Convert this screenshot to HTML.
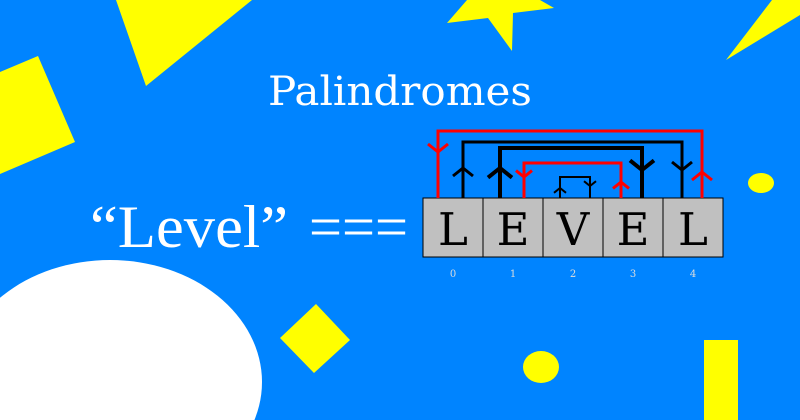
<!DOCTYPE html>
<html><head><meta charset="utf-8"><style>
html,body{margin:0;padding:0;width:800px;height:420px;overflow:hidden;background:#0084ff}
svg{display:block}
</style></head><body>
<svg width="800" height="420" viewBox="0 0 800 420">
<rect x="0" y="0" width="800" height="420" fill="#0084ff"/>
<polygon points="116,0 252,0 146,86" fill="#ffff00"/>
<polygon points="0,72 38,56 75,142 0,174" fill="#ffff00"/>
<polygon points="467,0 540,0 554,8 513,13 512,51 488,18 447,23" fill="#ffff00"/>
<polygon points="726,60 772,0 800,0 800,15" fill="#ffff00"/>
<ellipse cx="761" cy="183" rx="13" ry="10" fill="#ffff00"/>
<polygon points="280,338 316,304 350,340 314,373" fill="#ffff00"/>
<ellipse cx="541" cy="367" rx="18" ry="16" fill="#ffff00"/>
<rect x="704" y="340" width="34" height="80" fill="#ffff00"/>
<ellipse cx="110" cy="382" rx="152" ry="122" fill="#ffffff"/>

<text x="400" y="105" text-anchor="middle" font-family="'DejaVu Serif','Liberation Serif',serif" font-size="40" fill="#fff" textLength="264" lengthAdjust="spacingAndGlyphs">Palindromes</text>
<text x="90" y="247" font-family="'Liberation Serif',serif" font-size="60" fill="#fff" textLength="198" lengthAdjust="spacingAndGlyphs">“Level”</text>
<text x="309" y="247" font-family="'Liberation Serif',serif" font-size="60" fill="#fff" textLength="99" lengthAdjust="spacingAndGlyphs">===</text>

<g id="boxes"></g>
<g id="arcs"></g>
</svg>
<script>
const letters = ["L","E","V","E","L"];
const indices = ["0","1","2","3","4"];
const NS = "http://www.w3.org/2000/svg";
const bx = document.getElementById("boxes");
letters.forEach((ch,i)=>{
  const x = 423 + i*60;
  const r = document.createElementNS(NS,"rect");
  r.setAttribute("x",x);r.setAttribute("y",198);r.setAttribute("width",60);r.setAttribute("height",59);
  r.setAttribute("fill","#c0c0c0");r.setAttribute("stroke","#000");r.setAttribute("stroke-width","1");
  
  
  bx.appendChild(r);
  const t = document.createElementNS(NS,"text");
  t.setAttribute("x",x+30);t.setAttribute("y",245);t.setAttribute("text-anchor","middle");
  t.setAttribute("font-family","'DejaVu Serif','Liberation Serif',serif");t.setAttribute("font-size","45");
  t.textContent = ch;
  
  
  bx.appendChild(t);
  const n = document.createElementNS(NS,"text");
  n.setAttribute("x",x+30);n.setAttribute("y",277);n.setAttribute("text-anchor","middle");
  n.setAttribute("font-family","'DejaVu Serif','Liberation Serif',serif");n.setAttribute("font-size","10");n.setAttribute("fill","#ddd");
  n.textContent = indices[i];
  
  
  bx.appendChild(n);
});
const arcs = [
  [438,702,131,"#ff0000",3,"down",152,"up",172,10],
  [463,682,142,"#000",3,"up",168,"down",170,10],
  [500,642,148,"#000",4,"up",168,"down",170,12],
  [524,621,163,"#ff0000",3,"down",177,"up",182,8],
  [560,590,177,"#000",2,"up",188,"down",186,6]
];
const ag = document.getElementById("arcs");
function arrow(x,y,dir,s,col,w){
  const p = document.createElementNS(NS,"polyline");
  const dy = dir==="down" ? -s*0.8 : s*0.8;
  p.setAttribute("points",`${x-s},${y+dy} ${x},${y} ${x+s},${y+dy}`);
  p.setAttribute("fill","none");p.setAttribute("stroke",col);p.setAttribute("stroke-width",w);
  
  
  ag.appendChild(p);
}
arcs.forEach(a=>{
  const [l,r,top,col,w,ld,ly,rd,ry,s]=a;
  const p = document.createElementNS(NS,"polyline");
  p.setAttribute("points",`${l},198 ${l},${top} ${r},${top} ${r},198`);
  p.setAttribute("fill","none");p.setAttribute("stroke",col);p.setAttribute("stroke-width",w);
  
  
  ag.appendChild(p);
  arrow(l,ly,ld,s,col,w);
  arrow(r,ry,rd,s,col,w);
});
</script>
</body></html>
